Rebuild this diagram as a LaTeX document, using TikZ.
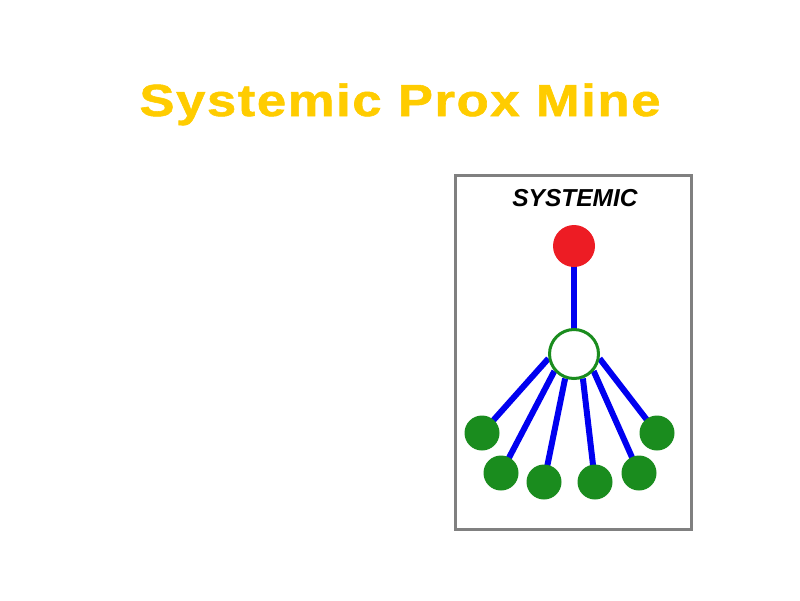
\documentclass[tikz,border=0pt]{standalone}
\usepackage{fontspec}
\setmainfont{Liberation Sans}
\newfontfamily\titlefont[LetterSpace=3,BoldFeatures={FakeBold=1.2}]{Liberation Sans}
\usetikzlibrary{backgrounds}
\definecolor{titleyellow}{RGB}{255,204,0}
\definecolor{boxgray}{RGB}{128,128,128}
\definecolor{nodered}{RGB}{237,28,36}
\definecolor{nodegreen}{RGB}{26,140,30}
\definecolor{linkblue}{RGB}{0,0,240}
\begin{document}
\begin{tikzpicture}[x=1pt,y=-1pt,
  leaf/.style={circle,fill=nodegreen,draw=none,minimum size=35pt,inner sep=0pt},
  root/.style={circle,fill=nodered,draw=none,minimum size=42pt,inner sep=0pt},
  hub/.style={circle,fill=white,draw=nodegreen,line width=3pt,minimum size=49pt,inner sep=0pt},
  link/.style={draw=linkblue,line width=6pt},
  frame/.style={draw=boxgray,line width=3pt}]
\useasboundingbox (0,0) rectangle (800,600);
\node[anchor=base,text=titleyellow,inner sep=0pt] (title) at (400,116)
  {\scalebox{1.17}[1]{\titlefont\fontsize{45}{54}\selectfont\bfseries Systemic Prox Mine}};
\draw[frame] (455.5,175.5) rectangle (691.5,529.5);
\node[anchor=base,inner sep=0pt] (label) at (575,206)
  {\fontsize{24.5}{29}\selectfont\bfseries\itshape SYSTEMIC};
\node[root] (r) at (574,246) {};
\node[hub] (h) at (574,354) {};
\node[leaf] (g1) at (482,433) {};
\node[leaf] (g2) at (501,473) {};
\node[leaf] (g3) at (544,482) {};
\node[leaf] (g4) at (595,482) {};
\node[leaf] (g5) at (639,473) {};
\node[leaf] (g6) at (657,433) {};
\begin{scope}[on background layer]
\draw[link] (r.center) -- (h.center);
\draw[link] (h.190) -- (g1.center);
\draw[link] (h.221) -- (g2.center);
\draw[link] (h.250) -- (g3.center);
\draw[link] (h.290) -- (g4.center);
\draw[link] (h.319) -- (g5.center);
\draw[link] (h.350) -- (g6.center);
\end{scope}
\end{tikzpicture}
\end{document}
